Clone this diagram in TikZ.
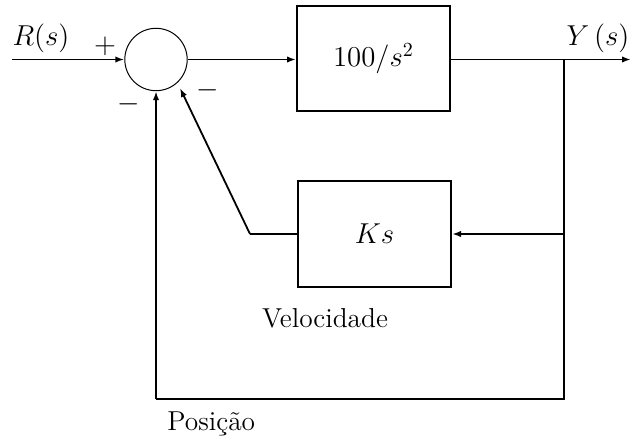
\documentclass[tikz,border=0pt]{standalone}
\usetikzlibrary{arrows.meta}
\begin{document}
\begin{tikzpicture}[x=0.5pt,y=-0.5pt,
  every node/.style={font=\fontsize{13.7}{16}\selectfont},
  blk/.style={draw,line width=1pt,rectangle,inner sep=0pt},
  sumc/.style={draw,line width=0.5pt,circle,minimum size=31.2pt,inner sep=0pt},
  conn/.style={line width=0.9pt},
  arr/.style={conn,-{Latex[length=4.5pt,width=3.2pt]}},
  lbl/.style={inner sep=0pt}]
\useasboundingbox (0,0) rectangle (631,439);
\node[sumc] (sum) at (156,59.5) {};
\node[blk,minimum width=76.5pt,minimum height=52.5pt] (G) at (373.5,58.5) {$100/s^2$};
\node[blk,minimum width=76.5pt,minimum height=53pt] (K) at (374.5,233.5) {$Ks$};
\coordinate (in) at (12,59.5);
\coordinate (out) at (631,59.5);
\coordinate (b1) at (564,59.5);
\coordinate (b2) at (564,234);
\coordinate (b3) at (564,399);
\coordinate (b4) at (156,399);
\coordinate (k1) at (250,234);
\coordinate (tip) at (180,88);
\draw[arr] (in) -- (sum.west);
\draw[arr] (sum.east) -- (G.west |- sum.east);
\draw[arr] (G.east |- b1) -- (out);
\draw[arr] (b1) -- (b2) -- (K.east |- b2);
\draw[conn] (b2) -- (b3) -- (b4);
\draw[arr] (b4) -- (sum.south);
\draw[conn] (K.west |- k1) -- (k1);
\draw[arr] (k1) -- (tip);
\node[lbl] (rl) at (41,38) {$R(s)$};
\node[lbl] (yl) at (598,38) {$Y\,(s)$};
\node[lbl] (p) at (105,46) {$+$};
\node[lbl] (m1) at (129,104) {$-$};
\node[lbl] (m2) at (208,90.5) {$-$};
\node[lbl] (vel) at (325,318) {Velocidade};
\node[lbl,anchor=base west] (pos) at (167,430) {Posição};
\end{tikzpicture}
\end{document}
